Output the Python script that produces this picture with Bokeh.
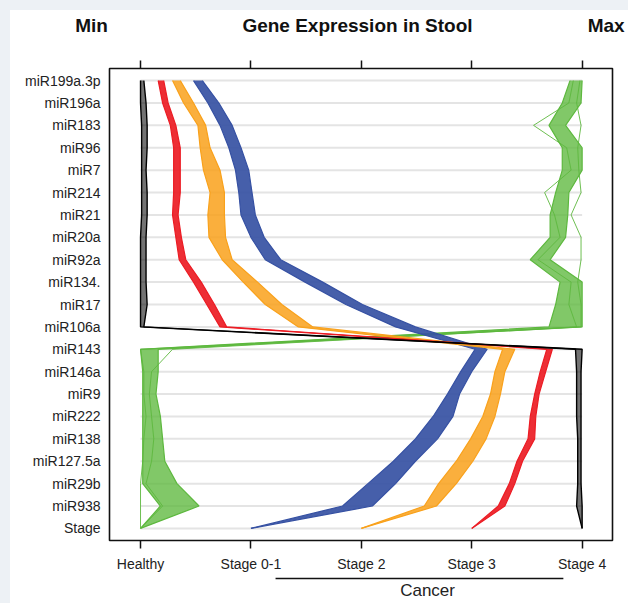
from bokeh.plotting import figure
from bokeh.layouts import column
from bokeh.models import Range1d, FixedTicker, LinearAxis, Label
from bokeh.embed import file_html
from bokeh.resources import INLINE

# ---------------- data ----------------
genes = ["miR199a.3p", "miR196a", "miR183", "miR96", "miR7", "miR214", "miR21",
         "miR20a", "miR92a", "miR134.", "miR17", "miR106a", "miR143", "miR146a",
         "miR9", "miR222", "miR138", "miR127.5a", "miR29b", "miR938", "Stage"]

stage_labels = ["Healthy", "Stage 0-1", "Stage 2", "Stage 3", "Stage 4"]
stage_pos = [0, 1, 2, 3, 4]
cancer_span = [1.223, 3.83]

# scaled expression (0 = Min ... 4 = Max); lower / upper edge of each bundle of samples
green_lo = [3.89, 3.82, 3.70, 3.82, 3.82, 3.76, 3.71, 3.71, 3.53, 3.80, 3.76, 3.70,
            0.00, 0.02, 0.02, 0.02, 0.02, 0.02, 0.02, 0.18, 0.00]
green_hi = [4.00, 3.99, 3.85, 4.00, 4.00, 3.88, 3.87, 3.85, 3.71, 4.00, 4.00, 4.00,
            0.16, 0.16, 0.14, 0.18, 0.20, 0.22, 0.33, 0.53, 0.00]
green_out1 = [3.92, 3.88, 3.56, 3.86, 3.90, 3.66, 3.75, 3.80, 3.60, 3.90, 3.88, 3.95,
              0.00, 0.03, 0.03, 0.05, 0.03, 0.02, 0.00, 0.00, 0.00]
green_out2 = [3.98, 3.95, 3.99, 3.96, 3.97, 3.99, 3.90, 3.99, 3.99, 3.96, 3.99, 3.99,
              0.29, 0.10, 0.08, 0.10, 0.12, 0.10, 0.05, 0.20, 0.00]

blue_lo = [0.48, 0.61, 0.72, 0.80, 0.86, 0.89, 0.91, 1.00, 1.13, 1.49, 1.86, 2.31,
           3.03, 2.90, 2.78, 2.65, 2.49, 2.29, 2.06, 1.83, 1.00]
blue_hi = [0.56, 0.71, 0.83, 0.91, 0.98, 1.01, 1.04, 1.12, 1.27, 1.65, 2.01, 2.49,
           3.14, 3.00, 2.89, 2.83, 2.69, 2.49, 2.31, 2.10, 1.00]

orange_lo = [0.29, 0.39, 0.52, 0.54, 0.57, 0.63, 0.61, 0.62, 0.74, 0.93, 1.13, 1.43,
             3.28, 3.21, 3.17, 3.10, 2.99, 2.86, 2.70, 2.57, 2.00]
orange_hi = [0.36, 0.48, 0.59, 0.63, 0.72, 0.76, 0.76, 0.77, 0.83, 1.06, 1.28, 1.56,
             3.39, 3.30, 3.26, 3.21, 3.13, 3.01, 2.86, 2.68, 2.00]

red_lo = [0.16, 0.20, 0.27, 0.30, 0.30, 0.30, 0.29, 0.32, 0.35, 0.48, 0.60, 0.72,
          3.68, 3.62, 3.57, 3.53, 3.51, 3.41, 3.34, 3.24, 3.00]
red_hi = [0.21, 0.25, 0.32, 0.36, 0.36, 0.36, 0.34, 0.37, 0.41, 0.55, 0.67, 0.78,
          3.73, 3.67, 3.61, 3.58, 3.57, 3.46, 3.39, 3.30, 3.00]

black_lo = [0.00, 0.00, 0.01, 0.01, 0.01, 0.01, 0.01, 0.00, 0.00, 0.00, 0.00, 0.00,
            3.94, 3.95, 3.95, 3.95, 3.96, 3.96, 3.96, 3.95, 4.00]
black_hi = [0.03, 0.05, 0.06, 0.06, 0.05, 0.06, 0.06, 0.05, 0.05, 0.05, 0.06, 0.03,
            4.00, 3.99, 3.99, 3.99, 3.99, 3.99, 3.99, 4.00, 4.00]

GREEN, BLUE, ORANGE, RED, BLACK = "#5db83e", "#3651a3", "#f9a11b", "#ec1c24", "#000000"
FONT = "Liberation Sans"

W = 618
BL, BR = 99, 16
X0, X1 = -0.281, 4.275
PPU = (W - BL - BR) / (X1 - X0)           # pixels per x unit
FX0, FX1 = X0 - BL / PPU, X1 + BR / PPU    # full-width range for header/footer

ys = list(range(len(genes)))[::-1]

def plain(height, yr):
    f = figure(width=W, height=height, x_range=Range1d(FX0, FX1), y_range=yr,
               output_backend="svg", toolbar_location=None)
    f.axis.visible = False
    f.grid.visible = False
    f.outline_line_color = None
    f.min_border_left = f.min_border_right = f.min_border_top = f.min_border_bottom = 0
    f.background_fill_color = "white"
    f.border_fill_color = "white"
    f.frame_align = False
    return f

# ---------------- header ----------------
hdr = plain(40, Range1d(0, 40))
hstyle = dict(text_baseline="middle", text_font=FONT, text_font_size="19px",
              text_font_style="bold", text_color="#111111")
hdr.add_layout(Label(x=-0.444, y=25, text="Min", text_align="center", **hstyle))
hdr.add_layout(Label(x=1.965, y=25, text="Gene Expression in Stool", text_align="center", **hstyle))
hdr.add_layout(Label(x=4.050, y=25, text="Max", text_align="left", **hstyle))

# ---------------- main plot ----------------
p = figure(width=W, height=526,
           x_range=Range1d(X0, X1), y_range=Range1d(-0.54, 20.54),
           output_backend="svg", toolbar_location=None)
p.min_border_left = BL
p.min_border_right = BR
p.min_border_top = 18
p.min_border_bottom = 36
p.background_fill_color = "white"
p.border_fill_color = "white"
p.xgrid.visible = False
p.ygrid.visible = False
p.outline_line_color = "#111111"
p.outline_line_width = 1.6
p.frame_align = False

# row gridlines spanning Healthy .. Stage 4
p.segment(x0=[min(stage_pos)] * len(ys), x1=[max(stage_pos)] * len(ys), y0=ys, y1=ys,
          line_color="#e4e4e4", line_width=2)

def bundle(lo, hi, color, alpha, lw=1.2):
    p.harea(y=ys, x1=lo, x2=hi, fill_color=color, fill_alpha=alpha)
    p.line(lo, ys, line_color=color, line_width=lw)
    p.line(hi, ys, line_color=color, line_width=lw)

bundle(green_lo, green_hi, GREEN, 0.78)
p.line(green_out1, ys, line_color=GREEN, line_width=0.9)
p.line(green_out2, ys, line_color=GREEN, line_width=0.9)
bundle(blue_lo, blue_hi, BLUE, 0.92)
bundle(orange_lo, orange_hi, ORANGE, 0.85)
bundle(red_lo, red_hi, RED, 0.92)
bundle(black_lo, black_hi, BLACK, 0.55, lw=1.4)

# bottom axis (stages)
xa = p.xaxis[0]
xa.ticker = FixedTicker(ticks=stage_pos)
xa.major_label_overrides = {k: v for k, v in zip(stage_pos, stage_labels)}
xa.axis_line_color = None
xa.major_tick_in = 0
xa.major_tick_out = 8
xa.major_tick_line_width = 1.5
xa.major_tick_line_color = "#111111"
xa.minor_tick_line_color = None
xa.major_label_standoff = 7
xa.major_label_text_font = FONT
xa.major_label_text_font_size = "14px"
xa.major_label_text_color = "#222222"

# top axis: ticks only
top = LinearAxis(ticker=FixedTicker(ticks=stage_pos), axis_line_color=None,
                 major_tick_in=0, major_tick_out=8, major_tick_line_width=1.5,
                 major_tick_line_color="#111111", minor_tick_line_color=None,
                 major_label_standoff=0,
                 major_label_text_font_size="1px", major_label_text_color=None)
p.add_layout(top, "above")

# left axis (genes)
ya = p.yaxis[0]
ya.ticker = FixedTicker(ticks=ys)
ya.major_label_overrides = {y: g for y, g in zip(ys, genes)}
ya.axis_line_color = None
ya.major_tick_in = 0
ya.major_tick_out = 0
ya.minor_tick_line_color = None
ya.major_label_standoff = 9
ya.major_label_text_font = FONT
ya.major_label_text_font_size = "14px"
ya.major_label_text_color = "#222222"

# ---------------- footer: "Cancer" bracket ----------------
ftr = plain(27, Range1d(0, 27))
ftr.segment(x0=[cancer_span[0]], x1=[cancer_span[1]], y0=[25], y1=[25],
            line_color="#111111", line_width=1.5)
ftr.add_layout(Label(x=2.60, y=13.5, text="Cancer",
                     text_align="center", text_baseline="middle", text_font=FONT,
                     text_font_size="17px", text_color="#222222"))

layout = column(hdr, p, ftr, spacing=0, styles={"background-color": "white"})

html = file_html(layout, INLINE)
css = ("<style>html, body {background:#edf1f5 !important;} "
       "body {padding:10px 0 0 10px !important; box-sizing:border-box;}</style>")
html = html.replace("</head>", css + "</head>", 1)
open("out.html", "w").write(html)
